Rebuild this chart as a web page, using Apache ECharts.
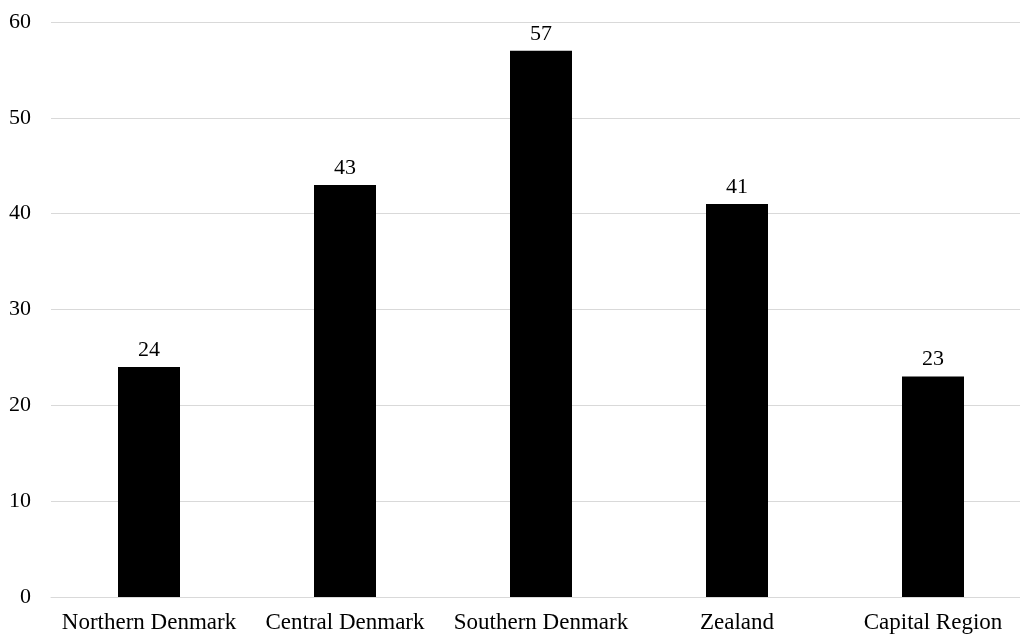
<!DOCTYPE html>
<html>
<head>
<meta charset="utf-8">
<script src="https://cdn.jsdelivr.net/npm/echarts@6/dist/echarts.min.js"></script>
<style>
  html, body { margin: 0; padding: 0; background: #fff; overflow: hidden; }
  #chart { width: 1040px; height: 634px; }
</style>
</head>
<body>
<div id="chart"></div>
<script>
var regions = ['Northern Denmark', 'Central Denmark', 'Southern Denmark', 'Zealand', 'Capital Region'];
var counts = [24, 43, 57, 41, 23];

var chart = echarts.init(document.getElementById('chart'));
var font = '"Liberation Serif", "Times New Roman", serif';

var option = {
    animation: false,
    grid: {
        left: 51,
        top: 22,
        width: 980,
        height: 575
    },
    xAxis: {
        type: 'category',
        data: regions,
        axisLine: { show: true, lineStyle: { color: '#d9d9d9', width: 1 } },
        axisTick: { show: false },
        axisLabel: {
            margin: 14,
            color: '#000',
            fontFamily: font,
            fontSize: 23,
            interval: 0
        }
    },
    yAxis: {
        type: 'value',
        min: 0,
        max: 60,
        interval: 10,
        axisLine: { show: false },
        axisTick: { show: false },
        splitLine: { lineStyle: { color: '#d9d9d9', width: 1 } },
        axisLabel: {
            margin: 20,
            color: '#000',
            fontFamily: font,
            fontSize: 22
        }
    },
    series: [
        {
            type: 'bar',
            data: counts,
            barWidth: 62,
            itemStyle: { color: '#000' },
            label: {
                show: true,
                position: 'top',
                distance: 6,
                color: '#000',
                fontFamily: font,
                fontSize: 22
            }
        }
    ]
};

chart.setOption(option);
</script>
</body>
</html>
